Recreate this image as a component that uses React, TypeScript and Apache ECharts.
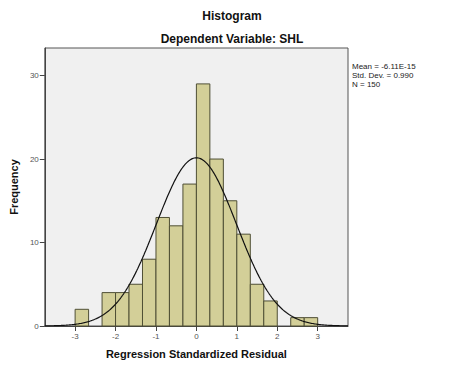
import React, { useEffect, useRef } from "react";
import * as echarts from "echarts";

const binStarts = [-3, -8 / 3, -7 / 3, -2, -5 / 3, -4 / 3, -1, -2 / 3, -1 / 3, 0, 1 / 3, 2 / 3, 1, 4 / 3, 5 / 3, 2, 7 / 3, 8 / 3];
const binCounts = [2, 0, 4, 4, 5, 8, 13, 12, 17, 29, 20, 15, 11, 5, 3, 0, 1, 1];
const binWidth = 1 / 3;
const xTicks = [-3, -2, -1, 0, 1, 2, 3];
const yTicks = [0, 10, 20, 30];
const mean = -6.11e-15;
const sd = 0.99;
const n = 150;
const statLines = ["Mean = -6.11E-15", "Std. Dev. = 0.990", "N = 150"];

export default function App() {
  const ref = useRef<HTMLDivElement>(null);
  useEffect(() => {
    const chart = echarts.init(ref.current!, null, { renderer: "svg" });
    const bars = binStarts
      .map((s, i) => [s, s + binWidth, binCounts[i]])
      .filter((d) => d[2] > 0);
    const curve: number[][] = [];
    for (let k = 0; k <= 300; k++) {
      const x = -3.75 + (7.5 * k) / 300;
      const z = (x - mean) / sd;
      curve.push([x, (n * binWidth * Math.exp(-0.5 * z * z)) / (sd * Math.sqrt(2 * Math.PI))]);
    }
    const font = "Arial, 'Liberation Sans', sans-serif";
    chart.setOption({
      animation: false,
      textStyle: { fontFamily: font },
      title: [
        { text: "Histogram", left: 232, top: 10, padding: 0, textAlign: "center", textStyle: { fontSize: 12, fontWeight: "bold", color: "#111", fontFamily: font } },
        { text: "Dependent Variable: SHL", left: 232, top: 33, padding: 0, textAlign: "center", textStyle: { fontSize: 12, fontWeight: "bold", color: "#111", fontFamily: font } },
      ],
      grid: { left: 43, right: 116, top: 48, bottom: 46, show: true, backgroundColor: "#F0F0F0", borderColor: "#555", borderWidth: 1 },
      xAxis: {
        type: "value",
        min: -3.75,
        max: 3.75,
        name: "Regression Standardized Residual",
        nameLocation: "middle",
        nameGap: 22,
        nameTextStyle: { fontSize: 11, fontWeight: "bold", color: "#111" },
        splitLine: { show: false },
        axisLine: { show: true, onZero: false, lineStyle: { color: "#444" } },
        axisTick: { show: true, length: 5, customValues: xTicks, lineStyle: { color: "#444" } },
        axisLabel: { customValues: xTicks, fontSize: 8, color: "#555", margin: 6 },
      },
      yAxis: {
        type: "value",
        min: 0,
        max: 33.3,
        name: "Frequency",
        nameLocation: "middle",
        nameGap: 21,
        nameTextStyle: { fontSize: 11, fontWeight: "bold", color: "#111" },
        splitLine: { show: false },
        axisLine: { show: true, onZero: false, lineStyle: { color: "#444" } },
        axisTick: { show: true, length: 5, customValues: yTicks, lineStyle: { color: "#444" } },
        axisLabel: { customValues: yTicks, fontSize: 8, color: "#555", margin: 6 },
      },
      series: [
        {
          type: "custom",
          data: bars,
          encode: { x: [0, 1], y: 2 },
          renderItem: (params: any, api: any) => {
            const p0 = api.coord([api.value(0), api.value(2)]);
            const p1 = api.coord([api.value(1), 0]);
            return {
              type: "rect",
              shape: { x: p0[0], y: p0[1], width: p1[0] - p0[0], height: p1[1] - p0[1] },
              style: { fill: "#D3CF98", stroke: "#4f4f35", lineWidth: 1 },
            };
          },
          z: 2,
        },
        {
          type: "line",
          data: curve,
          showSymbol: false,
          smooth: false,
          lineStyle: { color: "#111", width: 1.2 },
          z: 3,
        },
      ],
      graphic: [
        {
          type: "text",
          left: 352,
          top: 62,
          style: { text: statLines.join("\n"), fontSize: 8, lineHeight: 9, fill: "#222", fontFamily: font },
        },
      ],
    });
    return () => chart.dispose();
  }, []);
  return <div ref={ref} style={{ position: "absolute", left: 0, top: 0, width: 464, height: 372, background: "#fff" }} />;
}
